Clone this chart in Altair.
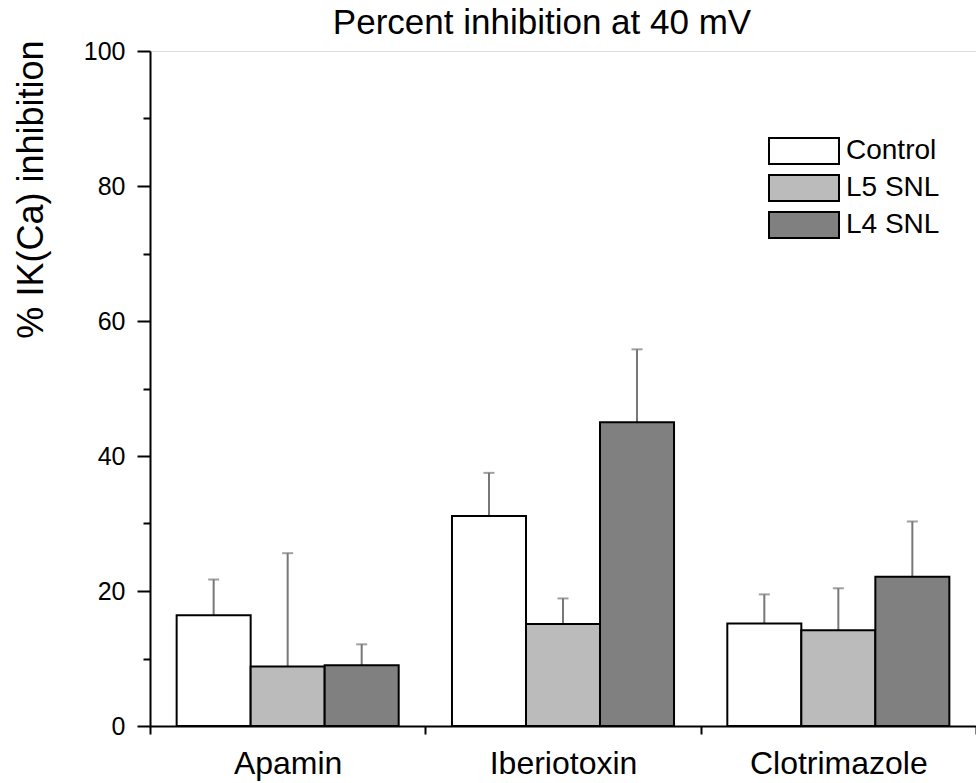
import altair as alt
import pandas as pd

categories = ["Apamin", "Iberiotoxin", "Clotrimazole"]
series = ["Control", "L5 SNL", "L4 SNL"]
control_mean = [16.4, 31.1, 15.2]
l5_mean = [8.8, 15.1, 14.2]
l4_mean = [9.0, 45.0, 22.1]
control_err = [5.3, 6.4, 4.3]
l5_err = [16.8, 3.8, 6.2]
l4_err = [3.1, 10.8, 8.2]
fill_colors = ["#ffffff", "#bbbbbb", "#808080"]
y_major = [0, 20, 40, 60, 80, 100]
y_minor = [10, 30, 50, 70, 90]

rows = []
for s, means, errs in zip(series, [control_mean, l5_mean, l4_mean],
                          [control_err, l5_err, l4_err]):
    for c, m, e in zip(categories, means, errs):
        rows.append({"drug": c, "group": s, "mean": m, "upper": round(m + e, 2)})
df = pd.DataFrame(rows)

FONT = "Liberation Sans"

x = alt.X(
    "drug:N", sort=categories, title=None,
    scale=alt.Scale(paddingInner=0, paddingOuter=0),
    axis=alt.Axis(tickBand="extent", labelAngle=0, labelFontSize=32, labelFont=FONT,
                  labelColor="black", domainColor="black", domainWidth=2,
                  tickColor="black", tickWidth=2, tickSize=8, labelPadding=14,
                  grid=False),
)
xo = alt.XOffset("group:N", sort=series,
                 scale=alt.Scale(paddingInner=0, paddingOuter=0.36))

yscale = alt.Scale(domain=[0, 100], nice=False)

y_main = alt.Y(
    "mean:Q", scale=yscale,
    title="% IK(Ca) inhibition",
    axis=alt.Axis(orient="left", values=y_major, labelFontSize=25, labelFont=FONT,
                  labelColor="black",
                  domainColor="black", domainWidth=2, tickColor="black", tickWidth=2,
                  tickSize=13, labelPadding=12, grid=False,
                  titleFont=FONT, titleFontSize=36, titleFontWeight="normal",
                  titleColor="black", titleAnchor="end", titleBaseline="alphabetic",
                  titleX=-108, titleY=-11),
)
y_plain = alt.Y("mean:Q", scale=yscale, axis=None)

err_color = "#777777"

rule = alt.Chart(df).mark_rule(color=err_color, strokeWidth=2).encode(
    x=x, xOffset=xo, y=y_plain, y2="upper:Q")

bars = alt.Chart(df).mark_bar(stroke="black", strokeWidth=2, opacity=1).encode(
    x=x, xOffset=xo, y=y_main,
    fill=alt.Fill("group:N", sort=series,
                  scale=alt.Scale(domain=series, range=fill_colors),
                  legend=alt.Legend(
                      title=None, orient="none", legendX=634, legendY=80,
                      padding=0, labelFont=FONT, labelFontSize=28, labelColor="black",
                      labelOffset=22,
                      symbolType="M-1.842,-0.684L1.842,-0.684L1.842,0.684L-1.842,0.684Z",
                      symbolSize=1444, symbolStrokeColor="black", symbolStrokeWidth=2,
                      symbolOpacity=1, rowPadding=0)),
)

caps = alt.Chart(df).mark_tick(color=err_color, thickness=2, size=11).encode(
    x=x, xOffset=xo,
    y=alt.Y("upper:Q", title=None, scale=yscale,
            axis=alt.Axis(orient="left", values=y_minor, labels=False, domain=False,
                          tickSize=7, tickWidth=2, tickColor="black", grid=False)),
)

chart = alt.layer(rule, bars, caps).resolve_axis(y="independent").properties(
    width=826, height=675,
    autosize=alt.AutoSizeParams(type="none"),
    padding={"left": 150, "top": 51, "right": 0, "bottom": 57},
    title=alt.Title("Percent inhibition at 40 mV", font=FONT, fontSize=35,
                    fontWeight="normal", color="black", anchor="middle", dx=-21,
                    dy=32, baseline="alphabetic", offset=2),
).configure_view(stroke=None).configure(background="white")

chart.save("out.html", embed_options={"renderer": "svg", "actions": False})
